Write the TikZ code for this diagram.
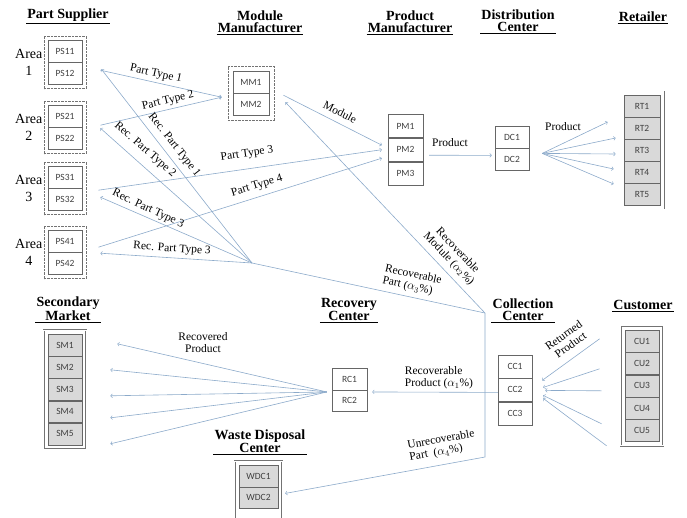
\documentclass[tikz,border=0pt]{standalone}
\usepackage{fontspec}
\setmainfont{Liberation Serif}
\newfontfamily\cellfont{Carlito}
\usetikzlibrary{arrows,positioning,fit}

\definecolor{flowblue}{RGB}{140,170,202}

\tikzset{
	cell/.style={draw=black!60, minimum width=34pt, minimum height=22pt, inner sep=0pt,
		font=\cellfont\fontsize{9.5}{10}\selectfont, text=black!75},
	gcell/.style={cell, fill=black!15},
	area/.style={draw=black!55, densely dotted, inner sep=4pt},
	frame/.style={draw=black!55, double=white, double distance=0.8pt, inner sep=3.5pt},
	head/.style={font=\fontsize{14}{12}\selectfont\bfseries, align=center, inner sep=1pt, anchor=south,
		append after command={(\tikzlastnode.south west) edge[line width=0.8pt] (\tikzlastnode.south east)}},
	arealabel/.style={font=\fontsize{14}{17}\selectfont, align=center, inner sep=0pt},
	flow/.style={draw=flowblue, line width=0.6pt},
	tag/.style={font=\fontsize{11.5}{12}\selectfont, inner sep=0pt}
}

\begin{document}
\begin{tikzpicture}[x=1pt,y=-1pt]
\useasboundingbox (0,0) rectangle (687,517);

% HEADINGS

\node[head] (hps) at (68,23) {Part Supplier};
\node[head] (hmm) at (260,34) {Module\\Manufacturer};
\node[head] (hpm) at (410,34) {Product\\Manufacturer};
\node[head] (hdc) at (518,33) {Distribution\\Center};
\node[head] (hrt) at (643,23) {Retailer};
\node[head] (hsm) at (68,322) {Secondary\\Market};
\node[head] (hrc) at (349,322) {Recovery\\Center};
\node[head] (hcc) at (523,322) {Collection\\Center};
\node[head] (hcu) at (643,311) {Customer};
\node[head] (hwdc) at (260,454) {Waste Disposal\\Center};

% PART SUPPLIERS

\node[cell] (ps11) at (65,51) {PS11};
\node[cell, below=0pt of ps11] (ps12) {PS12};
\node[area, fit=(ps11)(ps12)] (a1) {};
\node[arealabel, left=1pt of a1] (ar1) {Area\\1};

\node[cell] (ps21) at (65,116) {PS21};
\node[cell, below=0pt of ps21] (ps22) {PS22};
\node[area, fit=(ps21)(ps22)] (a2) {};
\node[arealabel, left=1pt of a2] (ar2) {Area\\2};

\node[cell] (ps31) at (65,177) {PS31};
\node[cell, below=0pt of ps31] (ps32) {PS32};
\node[area, fit=(ps31)(ps32)] (a3) {};
\node[arealabel, left=1pt of a3] (ar3) {Area\\3};

\node[cell] (ps41) at (65,241) {PS41};
\node[cell, below=0pt of ps41] (ps42) {PS42};
\node[area, fit=(ps41)(ps42)] (a4) {};
\node[arealabel, left=1pt of a4] (ar4) {Area\\4};

% MANUFACTURERS AND DISTRIBUTION

\node[cell, minimum width=36pt] (mm1) at (251,82) {MM1};
\node[cell, minimum width=36pt, below=0pt of mm1] (mm2) {MM2};
\node[area, inner sep=5pt, fit=(mm1)(mm2)] (mm) {};

\node[cell, minimum width=35pt, minimum height=23.3pt] (pm1) at (405.5,126) {PM1};
\node[cell, minimum width=35pt, minimum height=23.3pt, below=0pt of pm1] (pm2) {PM2};
\node[cell, minimum width=35pt, minimum height=23.3pt, below=0pt of pm2] (pm3) {PM3};

\node[cell] (dc1) at (512,137) {DC1};
\node[cell, below=0pt of dc1] (dc2) {DC2};

% RETAILERS

\node[gcell, minimum width=36pt, minimum height=21.6pt] (rt1) at (642,106) {RT1};
\node[gcell, minimum width=36pt, minimum height=21.6pt, below=0pt of rt1] (rt2) {RT2};
\node[gcell, minimum width=36pt, minimum height=21.6pt, below=0pt of rt2] (rt3) {RT3};
\node[gcell, minimum width=36pt, minimum height=21.6pt, below=0pt of rt3] (rt4) {RT4};
\node[gcell, minimum width=36pt, minimum height=21.6pt, below=0pt of rt4] (rt5) {RT5};
\node[frame, fit=(rt1)(rt5)] (rt) {};

% SECONDARY MARKETS

\node[gcell, minimum height=21.8pt] (sm1) at (65,345) {SM1};
\node[gcell, minimum height=21.8pt, below=0pt of sm1] (sm2) {SM2};
\node[gcell, minimum height=21.8pt, below=0pt of sm2] (sm3) {SM3};
\node[gcell, minimum height=21.8pt, below=0pt of sm3] (sm4) {SM4};
\node[gcell, minimum height=21.8pt, below=0pt of sm4] (sm5) {SM5};
\node[frame, inner sep=4pt, fit=(sm1)(sm5)] (sm) {};

% CUSTOMERS

\node[gcell] (cu1) at (642,341) {CU1};
\node[gcell, below=0pt of cu1] (cu2) {CU2};
\node[gcell, below=0pt of cu2] (cu3) {CU3};
\node[gcell, below=0pt of cu3] (cu4) {CU4};
\node[gcell, below=0pt of cu4] (cu5) {CU5};
\node[frame, inner sep=4pt, fit=(cu1)(cu5)] (cu) {};

% RECOVERY, COLLECTION, DISPOSAL

\node[cell, minimum width=35pt, minimum height=21.5pt] (rc1) at (349.5,379) {RC1};
\node[cell, minimum width=35pt, minimum height=21.5pt, below=0pt of rc1] (rc2) {RC2};

\node[cell, minimum height=23pt] (cc1) at (515,366.5) {CC1};
\node[cell, minimum height=23pt, below=0pt of cc1] (cc2) {CC2};
\node[cell, minimum height=23pt, below=0pt of cc2] (cc3) {CC3};

\node[gcell, minimum width=39pt, minimum height=21.5pt] (wdc1) at (258.5,476) {WDC1};
\node[gcell, minimum width=39pt, minimum height=21.5pt, below=0pt of wdc1] (wdc2) {WDC2};
\coordinate (wdcfoot) at (258.5,526);
\node[frame, inner sep=4pt, fit=(wdc1)(wdc2)(wdcfoot)] (wdc) {};

% JUNCTIONS

\coordinate (jpart) at (252,263);
\coordinate (jcol) at (485,313);
\coordinate (jwaste) at (485,457);

% FORWARD FLOWS

\draw[flow,->] ([xshift=14pt,yshift=-8pt]a1.east) -- ([xshift=-6pt,yshift=-4pt]mm.west);
\draw[flow,->] ([xshift=14pt,yshift=2pt]a2.east) -- ([xshift=-6pt,yshift=-4pt]mm.west);
\draw[flow,->] ([xshift=12pt,yshift=-2pt]a3.east) -- ([xshift=-6pt]pm2.west);
\draw[flow,->] ([xshift=12pt,yshift=5pt]a4.east) -- ([xshift=-6pt,yshift=-8.5pt]pm2.west);
\draw[flow,->] ([xshift=9pt,yshift=-2pt]mm.east) -- ([xshift=-6pt,yshift=4.5pt]pm2.west);
\draw[flow,->] ([xshift=6pt,yshift=-5.5pt]pm2.east) -- ([xshift=-3pt,yshift=4pt]dc2.west);

\draw[flow,->] ([xshift=13pt,yshift=6pt]dc2.east) -- ([xshift=-12.5pt,yshift=28pt]rt.west);
\draw[flow,->] ([xshift=13pt,yshift=6pt]dc2.east) -- ([xshift=-4.5pt,yshift=12pt]rt.west);
\draw[flow,->] ([xshift=13pt,yshift=6pt]dc2.east) -- ([xshift=-4.5pt,yshift=-4pt]rt.west);
\draw[flow,->] ([xshift=13pt,yshift=6pt]dc2.east) -- ([xshift=-6.5pt,yshift=-19pt]rt.west);
\draw[flow,->] ([xshift=13pt,yshift=6pt]dc2.east) -- ([xshift=-6.5pt,yshift=-34pt]rt.west);

% RETURN FLOWS

\draw[flow,->] ([xshift=-21pt,yshift=47pt]cu.west) -- ([xshift=10pt,yshift=9.5pt]cc2.east);
\draw[flow,->] ([xshift=-21pt,yshift=17pt]cu.west) -- ([xshift=11pt,yshift=2.5pt]cc2.east);
\draw[flow,->] ([xshift=-19pt,yshift=-5pt]cu.west) -- ([xshift=13pt,yshift=-0.5pt]cc2.east);
\draw[flow,->] ([xshift=-19pt,yshift=-38pt]cu.west) -- ([xshift=11pt,yshift=-5.5pt]cc2.east);
\draw[flow,->] ([xshift=-14pt,yshift=-60pt]cu.west) -- ([xshift=11pt,yshift=-8.5pt]cc2.east);

\draw[flow,->] ([yshift=-2.5pt]cc2.west) -- ([xshift=5pt,yshift=-2pt]rc1.south east);

\draw[flow,->] ([xshift=-5pt,yshift=-2pt]rc1.south west) -- ([xshift=31pt,yshift=45.6pt]sm.east);
\draw[flow,->] ([xshift=-5pt,yshift=-2pt]rc1.south west) -- ([xshift=24pt,yshift=19.6pt]sm.east);
\draw[flow,->] ([xshift=-5pt,yshift=-2pt]rc1.south west) -- ([xshift=24pt,yshift=-6.4pt]sm.east);
\draw[flow,->] ([xshift=-5pt,yshift=-2pt]rc1.south west) -- ([xshift=24pt,yshift=-28.4pt]sm.east);
\draw[flow,->] ([xshift=-5pt,yshift=-2pt]rc1.south west) -- ([xshift=24pt,yshift=-54.4pt]sm.east);

\draw[flow,->] (jcol) -- ([xshift=11pt,yshift=-9pt]mm.east);
\draw[flow] (jcol) -- (jpart);
\draw[flow,->] (jcol) -- (jwaste) -- ([xshift=7pt,yshift=4.5pt]wdc2.east);

\draw[flow,->] (jpart) -- ([xshift=15pt,yshift=-7pt]a1.east);
\draw[flow,->] (jpart) -- ([xshift=14pt,yshift=-1pt]a2.east);
\draw[flow,->] (jpart) -- ([xshift=14pt,yshift=-9pt]a3.east);
\draw[flow,->] (jpart) -- ([xshift=14pt,yshift=-1pt]a4.east);

% LABELS

\node[tag, rotate=-12.5] (lpt1) at (156,74) {Part Type 1};
\node[tag, rotate=13] (lpt2) at (168,101) {Part Type 2};
\node[tag, rotate=-52] (lrpt1) at (174,145) {Rec. Part Type 1};
\node[tag, rotate=-41] (lrpt2) at (145,150) {Rec. Part Type 2};
\node[tag, rotate=-25] (lrpt3a) at (148,209) {Rec. Part Type 3};
\node[tag, rotate=-4] (lrpt3b) at (172,249) {Rec. Part Type 3};
\node[tag, rotate=8] (lpt3) at (247,154) {Part Type 3};
\node[tag, rotate=17] (lpt4) at (257,186) {Part Type 4};
\node[tag, rotate=-27] (lmod) at (340,112) {Module};
\node[tag] (lprod1) at (450,143) {Product};
\node[tag] (lprod2) at (563,127) {Product};
\node[tag, align=center, rotate=-46.5] (lrmod) at (453,255) {Recoverable\\Module ($\alpha_2$\%)};
\node[tag, align=left, rotate=-12] (lrpart) at (412,281) {Recoverable\\Part ($\alpha_3$\%)};
\node[tag, align=left] (lrprod) at (439,378) {Recoverable\\Product ($\alpha_1$\%)};
\node[tag, align=center] (lrecd) at (203,343) {Recovered\\Product};
\node[tag, align=left, rotate=10] (lunrec) at (442,446) {Unrecoverable\\Part\ \ ($\alpha_4$\%)};
\node[tag, align=center, rotate=35] (lret) at (567,340) {Returned\\Product};

\end{tikzpicture}
\end{document}
